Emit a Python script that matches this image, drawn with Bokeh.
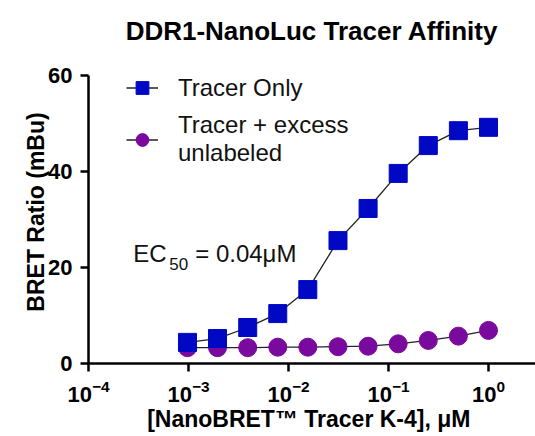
from bokeh.plotting import figure
from bokeh.models import Legend, LegendItem, Label, FixedTicker
from bokeh.embed import file_html
from bokeh.resources import INLINE

# ---- data ----
conc_uM = [0.000977, 0.00195, 0.00391, 0.00781, 0.0156, 0.03125, 0.0625, 0.125, 0.25, 0.5, 1.0]
tracer_only = [4.4, 5.2, 7.5, 10.4, 15.4, 25.6, 32.3, 39.6, 45.4, 48.5, 49.2]
tracer_excess = [3.3, 3.3, 3.3, 3.4, 3.4, 3.5, 3.6, 4.1, 4.8, 5.7, 6.9]
x_ticks = [1e-4, 1e-3, 1e-2, 1e-1, 1e0]
y_ticks = [0, 20, 40, 60]

FONT = "Liberation Sans"
BLUE = "#0008C4"
PURPLE = "#7A0A9E"

p = figure(width=535, height=436, x_axis_type="log",
           x_range=(1e-4, 10 ** 0.47), y_range=(0, 63.125),
           output_backend="svg", toolbar_location=None,
           min_border_left=88, min_border_right=0,
           min_border_top=60, min_border_bottom=73)

p.title.text = "DDR1-NanoLuc Tracer Affinity"
p.title.text_font = FONT
p.title.text_font_size = "26px"
p.title.text_font_style = "bold"
p.title.text_color = "black"
p.title.align = "center"
p.title.vertical_align = "top"
p.title.standoff = 26

p.outline_line_color = None
p.grid.grid_line_color = None
p.background_fill_color = None
p.border_fill_color = "white"

for ax in (p.xaxis[0], p.yaxis[0]):
    ax.axis_line_width = 2.5
    ax.axis_line_color = "black"
    ax.major_tick_line_width = 2.5
    ax.major_tick_line_color = "black"
    ax.major_tick_in = 0
    ax.major_tick_out = 8
    ax.minor_tick_line_color = None
    ax.major_label_text_font = FONT
    ax.major_label_text_font_size = "22px"
    ax.major_label_text_font_style = "bold"
    ax.major_label_text_color = "black"
    ax.axis_label_text_font = FONT
    ax.axis_label_text_font_size = "23px"
    ax.axis_label_text_font_style = "bold"
    ax.axis_label_text_color = "black"

p.xaxis.ticker = FixedTicker(ticks=x_ticks)
p.yaxis.ticker = FixedTicker(ticks=y_ticks)
p.yaxis.bounds = (0, 60)
p.xaxis.axis_label = "[NanoBRET\u2122  Tracer K-4], \u03bcM"
p.yaxis.axis_label = "BRET Ratio (mBu)"
p.xaxis.major_label_standoff = 8
p.yaxis.major_label_standoff = 8
p.xaxis.axis_label_standoff = 1
p.yaxis.axis_label_standoff = -4

# series
l2 = p.line(conc_uM, tracer_excess, line_color="#222222", line_width=1.3)
c2 = p.scatter(conc_uM, tracer_excess, marker="circle", size=18,
               fill_color=PURPLE, line_color=PURPLE)
l1 = p.line(conc_uM, tracer_only, line_color="#222222", line_width=1.3)
c1 = p.scatter(conc_uM, tracer_only, marker="square", size=18,
               fill_color=BLUE, line_color=BLUE)

legend = Legend(items=[LegendItem(label="Tracer Only", renderers=[l1, c1]),
                       LegendItem(label="Tracer + excess\nunlabeled", renderers=[l2, c2])],
                location=(38, 196))
legend.border_line_color = None
legend.background_fill_alpha = 0
legend.label_text_font = FONT
legend.label_text_font_size = "24px"
legend.label_text_line_height = 1.0
legend.label_text_color = "#111111"
legend.glyph_width = 32
legend.glyph_height = 45
legend.spacing = 1
legend.margin = 0
legend.padding = 0
legend.label_standoff = 20
legend.label_height = 24
p.add_layout(legend)

# EC50 annotation
ec_x = 2.8e-4
ec_y = 20.2
p.add_layout(Label(x=ec_x, y=ec_y, text="EC", text_font=FONT,
                   text_font_size="24px", text_color="#111111"))
p.add_layout(Label(x=ec_x, y=ec_y, x_offset=36, y_offset=-3, text="50",
                   text_font=FONT, text_font_size="17px", text_color="#111111"))
p.add_layout(Label(x=ec_x, y=ec_y, x_offset=62, text="= 0.04\u03bcM",
                   text_font=FONT, text_font_size="24px", text_color="#111111"))

open("out.html", "w").write(file_html(p, INLINE))
